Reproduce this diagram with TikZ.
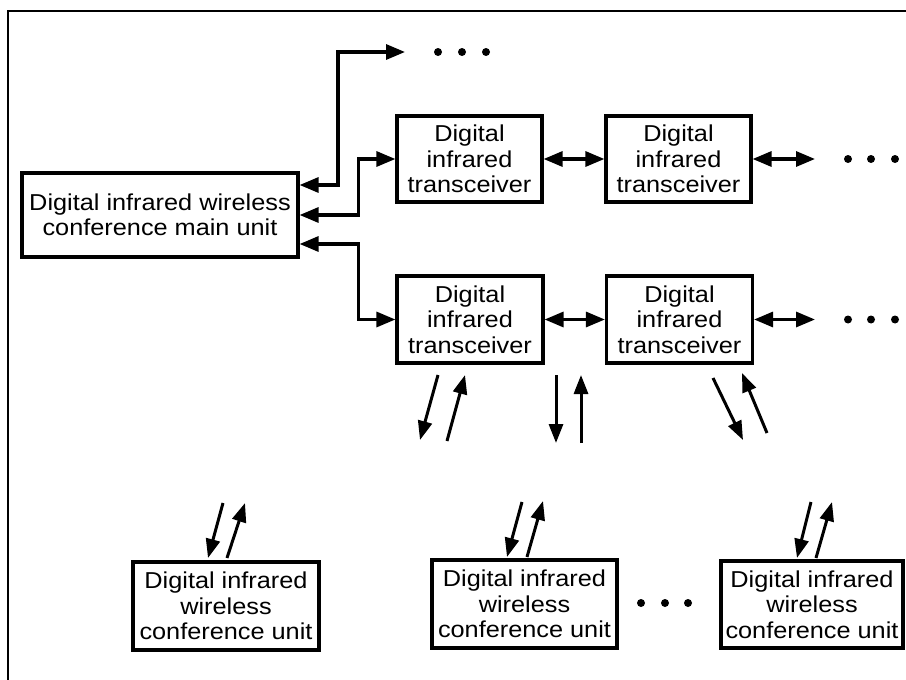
\documentclass[tikz,border=0pt]{standalone}
\usepackage{fontspec}
\setmainfont[FakeStretch=1.1]{Liberation Sans}
\usetikzlibrary{arrows.meta,calc}
\begin{document}
\begin{tikzpicture}[x=1pt,y=-1pt,
  box/.style={draw,line width=3.2pt,inner sep=0pt,align=center,
    font=\fontsize{23}{25.5}\selectfont},
  link/.style={line width=3.2pt,line join=miter,
    {Triangle[length=19pt,width=15pt]}-{Triangle[length=19pt,width=15pt]}},
  ir/.style={line width=3pt,-{Triangle[length=19pt,width=14pt]}},
  dot/.style={circle,fill,inner sep=0pt,minimum size=8pt}]
\useasboundingbox (0,0) rectangle (906,680);
\draw[line width=2pt] (8,680) -- (8,11) -- (906,11);

\node[box,minimum width=276pt,minimum height=84pt] (main) at (160,215)
  {Digital infrared wireless\\conference main unit};
\node[box,minimum width=145pt,minimum height=86pt] (T1) at (469.5,159)
  {Digital\\infrared\\transceiver};
\node[box,minimum width=145pt,minimum height=86pt] (T2) at (678.5,159)
  {Digital\\infrared\\transceiver};
\node[box,minimum width=146pt,minimum height=87pt] (B1) at (470,319.5)
  {Digital\\infrared\\transceiver};
\node[box,minimum width=146pt,minimum height=87pt] (B2) at (679.5,319.5)
  {Digital\\infrared\\transceiver};
\node[box,minimum width=186pt,minimum height=88pt] (U1) at (226,606)
  {Digital infrared\\wireless\\conference unit};
\node[box,minimum width=185pt,minimum height=88pt] (U2) at (524.5,604)
  {Digital infrared\\wireless\\conference unit};
\node[box,minimum width=182pt,minimum height=87pt] (U3) at (812,604.5)
  {Digital infrared\\wireless\\conference unit};

% free ends
\coordinate (topend) at (405,52);
\coordinate (T2end) at (815,159);
\coordinate (B2end) at (815,319.5);

% links
\draw[link] ([yshift=30pt]main.east) -| (338,52) -- (topend);
\draw[link] (main.east) -| ($(T1.west)+(-37,0)$) -- (T1.west);
\draw[link] ([yshift=-29pt]main.east) -| ($(B1.west)+(-37,0)$) -- (B1.west);
\draw[link] (T1.east) -- (T2.west);
\draw[link] (T2.east) -- (T2end);
\draw[link] (B1.east) -- (B2.west);
\draw[link] (B2.east) -- (B2end);

% dots
\foreach \i/\x/\y in {a/438/52,b/462/52,c/486/52,
  d/848/159,e/871/159,f/895/159,
  g/848/319.5,h/871/319.5,i/895/319.5,
  j/641/603,k/665/603,l/688/603}
  \node[dot] (dot\i) at (\x,\y) {};

% infrared arrows
\foreach \n/\ax/\ay/\bx/\by in {
  p1d/438/375/420/440, p1u/447/441/465/375,
  p2d/556/375/556/443, p2u/581/443/581/375,
  p3d/713/378/743/440, p3u/767/433/742/373,
  u1d/223/503/208/558, u1u/227/558/245/503,
  u2d/522/502/507/557, u2u/527/557/543/501,
  u3d/811/502/797/558, u3u/816/558/832/502}
{
  \coordinate (\n s) at (\ax,\ay);
  \coordinate (\n e) at (\bx,\by);
  \draw[ir] (\n s) -- (\n e);
}
\end{tikzpicture}
\end{document}
